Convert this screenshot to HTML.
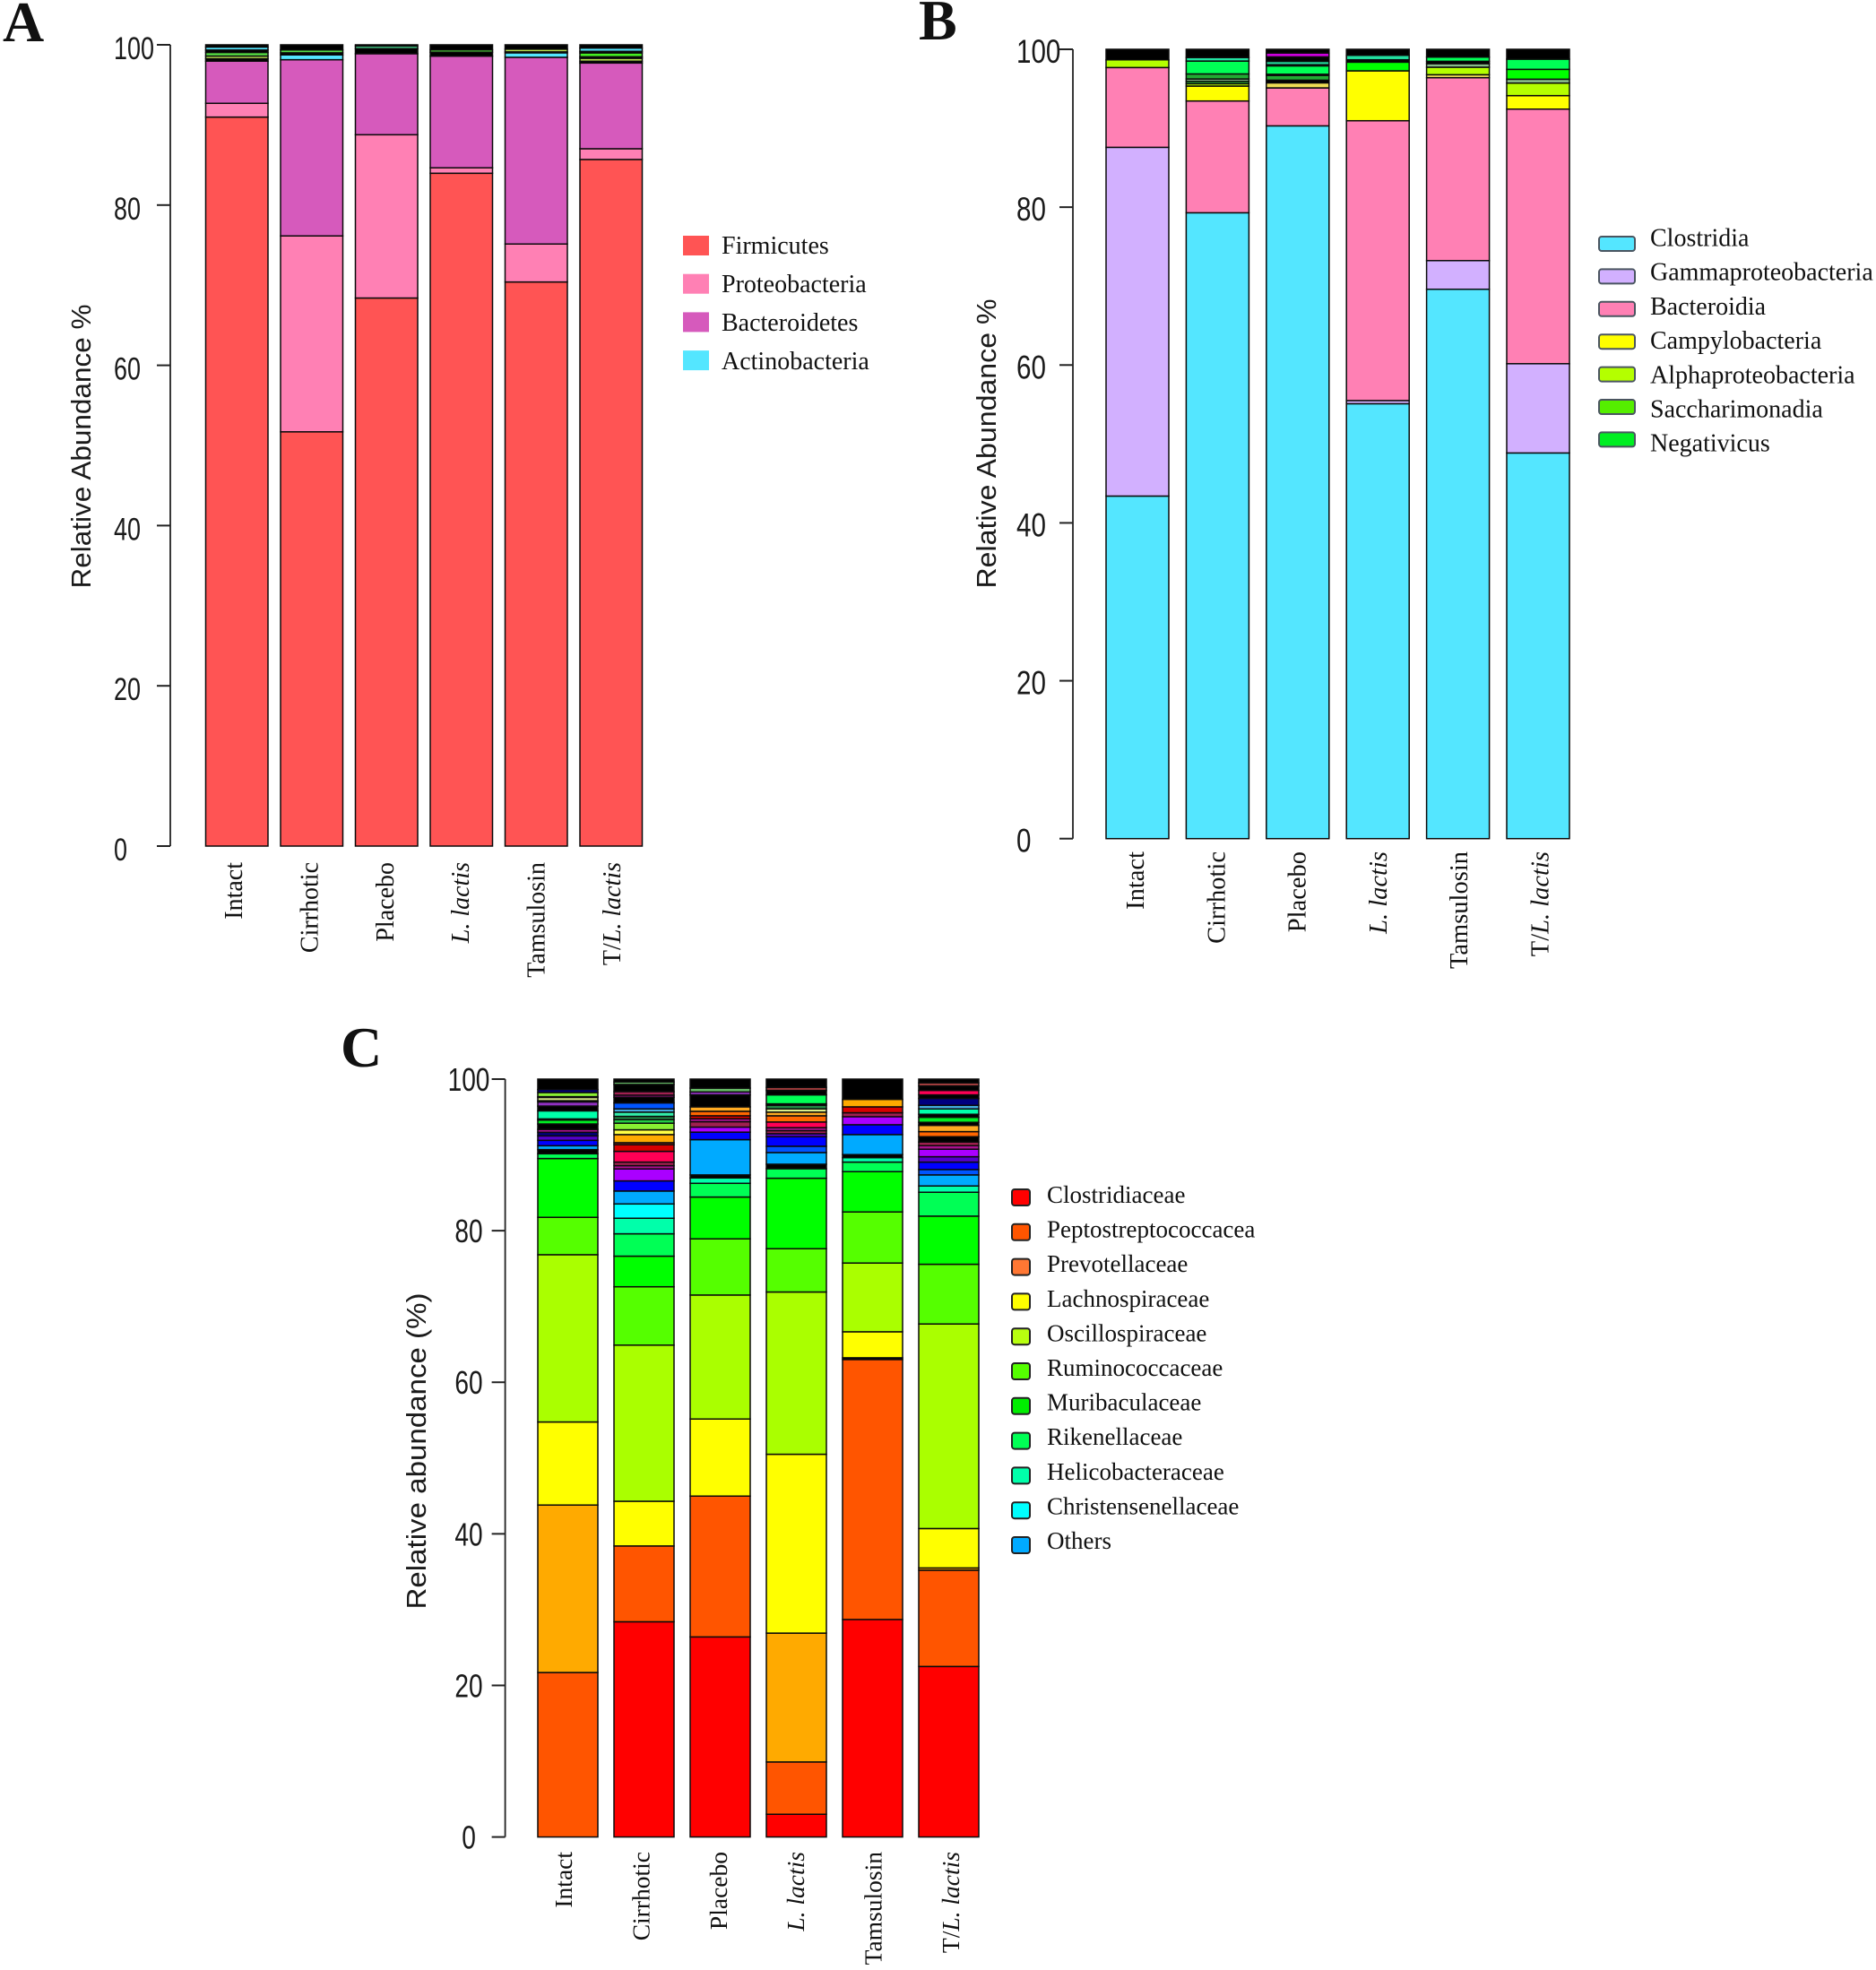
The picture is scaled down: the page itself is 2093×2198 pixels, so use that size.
<!DOCTYPE html>
<html lang="en">
<head>
<meta charset="utf-8">
<title>Relative abundance stacked bars</title>
<style>
html,body{margin:0;padding:0;background:#fff;width:2093px;height:2198px;overflow:hidden}
svg{display:block}
.serif{font-family:"Liberation Serif",serif;fill:#111}
.sans{font-family:"Liberation Sans",sans-serif;fill:#1a1a1a}
</style>
</head>
<body>
<svg id="figure" xmlns="http://www.w3.org/2000/svg" width="2093" height="2198" viewBox="0 0 2093 2198">
<rect x="0" y="0" width="2093" height="2198" fill="#fff"/>
</svg>
<script>
// ---------- shared data ----------
const categories = ['Intact', 'Cirrhotic', 'Placebo', 'L. lactis', 'Tamsulosin', 'T/L. lactis'];
const tickValues = [0, 20, 40, 60, 80, 100];
const tickLabels = ['0', '20', '40', '60', '80', '100'];

// ---------- panel A: phylum ----------
const aLegend = ['Firmicutes', 'Proteobacteria', 'Bacteroidetes', 'Actinobacteria'];
const aPalette = ['#ff5454', '#ff80b4', '#d65abc', '#54e6ff', '#b8e050', '#55dd44', '#44cc88', '#000000', '#44ee22'];
const aIntactValues = [90.98, 1.72, 5.26, 0.3, 0.34, 0.45, 0.3, 0.37, 0.28];
const aIntactTaxa = [0, 1, 2, 7, 4, 5, 7, 3, 7];
const aCirrhoticValues = [51.7, 24.45, 21.99, 0.6, 0.26, 0.37, 0.63];
const aCirrhoticTaxa = [0, 1, 2, 3, 7, 5, 7];
const aPlaceboValues = [68.4, 20.38, 10.11, 0.63, 0.33, 0.15];
const aPlaceboTaxa = [0, 1, 2, 7, 6, 7];
const aLactisValues = [83.97, 0.68, 13.94, 0.49, 0.3, 0.62];
const aLactisTaxa = [0, 1, 2, 7, 5, 7];
const aTamsulosinValues = [70.4, 4.74, 23.3, 0.56, 0.12, 0.34, 0.54];
const aTamsulosinTaxa = [0, 1, 2, 3, 7, 4, 7];
const aComboValues = [85.69, 1.34, 10.7, 0.22, 0.37, 0.19, 0.48, 0.2, 0.41, 0.4];
const aComboTaxa = [0, 1, 2, 7, 4, 7, 8, 7, 3, 7];

// ---------- panel B: class ----------
const bLegend = ['Clostridia', 'Gammaproteobacteria', 'Bacteroidia', 'Campylobacteria', 'Alphaproteobacteria', 'Saccharimonadia', 'Negativicus'];
const bLegendColors = ['#54e6ff', '#d2b0ff', '#ff80b4', '#ffff00', '#b4ff00', '#55ee00', '#00ee22'];
const bPalette = ['#54e6ff', '#d2b0ff', '#ff80b4', '#ffff00', '#b4ff00', '#55e010', '#00ff00', '#00ff55', '#22e0a0', '#000000', '#cc00dd', '#88bb88', '#eedd55', '#22aa33'];
const bIntactValues = [43.4, 44.18, 10.11, 0.98, 1.33];
const bIntactTaxa = [0, 1, 2, 4, 9];
const bCirrhoticValues = [79.29, 14.16, 1.89, 0.3, 0.3, 0.3, 0.64, 1.63, 0.45, 1.04];
const bCirrhoticTaxa = [0, 2, 3, 4, 13, 11, 13, 7, 8, 9];
const bPlaceboValues = [90.3, 4.81, 0.64, 0.34, 0.6, 0.15, 1.06, 0.15, 0.42, 0.57, 0.49, 0.47];
const bPlaceboTaxa = [0, 2, 12, 9, 13, 9, 7, 9, 8, 9, 10, 9];
const bLactisValues = [55.1, 0.4, 35.45, 6.32, 1.1, 0.3, 0.57, 0.76];
const bLactisTaxa = [0, 1, 2, 3, 6, 9, 8, 9];
const bTamsulosinValues = [69.6, 3.63, 23.17, 0.38, 0.95, 0.45, 0.3, 0.53, 0.99];
const bTamsulosinTaxa = [0, 1, 2, 12, 4, 11, 9, 7, 9];
const bComboValues = [48.86, 11.31, 32.25, 1.71, 1.59, 0.49, 1.25, 1.29, 1.25];
const bComboTaxa = [0, 1, 2, 3, 4, 11, 6, 7, 9];

// ---------- panel C: family ----------
const cLegend = ['Clostridiaceae', 'Peptostreptococcacea', 'Prevotellaceae', 'Lachnospiraceae', 'Oscillospiraceae', 'Ruminococcaceae', 'Muribaculaceae', 'Rikenellaceae', 'Helicobacteraceae', 'Christensenellaceae', 'Others'];
const cLegendColors = ['#ff0000', '#ff5500', '#ff7733', '#ffff00', '#b8ff10', '#55ff00', '#00ee00', '#00ff55', '#00ffaa', '#00ffff', '#00aaff'];
const cPalette = ['#ff0000', '#ff5500', '#ffaa00', '#ffff00', '#aaff00', '#55ff00', '#00ff00', '#00ff55', '#00ffaa', '#00ffff', '#00aaff', '#0055ff', '#0000ff', '#5500cc', '#aa00ff', '#aa1090', '#ff0055', '#d80000', '#a03020', '#ff6600', '#ffaa22', '#ffff44', '#88ee33', '#22cc44', '#228844', '#33eeaa', '#44aadd', '#000080', '#9030c0', '#a02050', '#aa4040', '#000000', '#ddee88', '#00ee22', '#66bb66'];
const cIntactValues = [21.7, 22.1, 10.96, 22.07, 4.93, 7.76, 0.63, 0.55, 0.51, 0.71, 0.59, 0.47, 0.39, 0.71, 0.51, 0.16, 1.06, 0.63, 0.55, 0.16, 0.43, 0.1, 0.55, 0.39, 1.38];
const cIntactTaxa = [1, 2, 3, 4, 5, 6, 7, 31, 10, 12, 13, 27, 15, 31, 33, 31, 8, 31, 28, 31, 32, 31, 22, 27, 31];
const cCirrhoticValues = [28.4, 10.0, 5.9, 20.6, 7.7, 4.04, 2.95, 2.05, 1.89, 1.7, 1.34, 1.58, 0.43, 0.47, 1.42, 0.87, 0.27, 1.07, 0.63, 0.87, 0.47, 0.43, 0.56, 0.43, 0.79, 0.75, 0.27, 0.47, 0.95, 0.32, 0.38];
const cCirrhoticTaxa = [0, 1, 3, 4, 5, 6, 7, 8, 9, 10, 12, 14, 15, 29, 16, 17, 18, 2, 21, 22, 23, 24, 25, 26, 11, 31, 15, 29, 31, 34, 31];
const cPlaceboValues = [26.4, 18.58, 10.17, 16.36, 7.41, 5.52, 1.81, 0.71, 0.4, 4.65, 0.99, 0.67, 0.71, 0.39, 0.39, 0.59, 0.59, 1.58, 0.39, 0.5, 1.19];
const cPlaceboTaxa = [0, 1, 3, 4, 5, 6, 7, 8, 31, 10, 12, 14, 29, 15, 17, 19, 20, 31, 28, 34, 31];
const cLactisValues = [3.0, 6.9, 17.0, 23.6, 21.41, 5.71, 9.3, 1.26, 0.59, 1.54, 0.83, 1.26, 0.4, 0.4, 0.39, 0.75, 0.82, 0.48, 0.43, 0.47, 0.2, 1.18, 0.59, 0.39, 1.1];
const cLactisTaxa = [0, 1, 2, 3, 4, 5, 6, 7, 31, 10, 11, 12, 13, 29, 15, 16, 19, 20, 32, 24, 31, 7, 31, 30, 31];
const cTamsulosinValues = [28.7, 34.3, 0.23, 3.43, 9.07, 6.74, 5.32, 1.26, 0.59, 0.4, 2.64, 1.3, 1.06, 0.52, 0.78, 0.99, 2.67];
const cTamsulosinTaxa = [0, 1, 31, 3, 4, 5, 6, 7, 8, 31, 10, 12, 14, 29, 17, 2, 31];
const cComboValues = [22.5, 12.7, 0.3, 5.2, 26.99, 7.88, 6.35, 3.15, 0.83, 1.46, 0.71, 0.98, 0.71, 0.99, 0.47, 0.47, 0.71, 0.67, 0.83, 0.4, 0.66, 0.4, 0.71, 0.47, 0.91, 0.47, 0.59, 0.59, 0.4, 0.5];
const cComboTaxa = [0, 1, 2, 3, 4, 5, 6, 7, 8, 10, 11, 12, 13, 14, 15, 29, 31, 19, 20, 31, 33, 31, 8, 26, 27, 31, 16, 31, 30, 31];

// ---------- drawing ----------
const NS = 'http://www.w3.org/2000/svg';
const figure = document.getElementById('figure');

function make(tag, attrs, parent) {
  const el = document.createElementNS(NS, tag);
  for (const k in attrs) el.setAttribute(k, attrs[k]);
  parent.appendChild(el);
  return el;
}

function drawPanel(p) {
  const group = make('g', {}, figure);
  
  

  const yScale = v => p.y0 - v * (p.y0 - p.y100) / 100;
  const xScale = i => p.barStart + i * p.barStep;

  // panel letter
  const letter = make('text', {x: p.letterX, y: p.letterY, 'font-size': 64, 'font-weight': 'bold', class: 'serif'}, group);
  letter.textContent = p.id;
  
  

  // axis line
  const axis = make('line', {x1: p.axisX, x2: p.axisX, y1: yScale(100), y2: yScale(0), stroke: '#222', 'stroke-width': 1.8}, group);
  
  

  // ticks and tick labels
  tickValues.forEach((v, i) => {
    const tick = make('line', {x1: p.axisX - p.tickLen, x2: p.axisX, y1: yScale(v), y2: yScale(v), stroke: '#222', 'stroke-width': 2}, group);
    
    
    const label = make('text', {
      transform: 'translate(' + p.tickLabelX + ',' + (yScale(v) + p.tickLabelDy) + ') scale(' + p.tickScale + ',1)',
      'font-size': p.tickFont, 'text-anchor': p.tickAnchor, class: 'sans'
    }, group);
    label.textContent = tickLabels[i];
    
    
  });

  // axis title
  const title = make('text', {
    transform: 'translate(' + p.titleX + ',' + p.titleY + ') rotate(-90)',
    'font-size': 31, 'text-anchor': 'middle', class: 'sans',
    textLength: p.titleLen, lengthAdjust: 'spacingAndGlyphs'
  }, group);
  title.textContent = p.title;
  
  

  // stacked bars
  p.stacks.forEach((stack, i) => {
    const bar = make('g', {}, group);
    
    
    let base = 0;
    stack.values.forEach((value, j) => {
      const top = base + value;
      const seg = make('rect', {
        x: xScale(i), width: p.barWidth,
        y: yScale(top), height: yScale(base) - yScale(top),
        fill: p.palette[stack.taxa[j]], stroke: '#0a0a0a', 'stroke-width': 1.5
      }, bar);
      
      
      base = top;
    });
  });

  // category labels
  categories.forEach((name, i) => {
    const label = make('text', {
      transform: 'translate(' + (p.labelStart + i * p.labelStep) + ',' + p.labelTop + ') rotate(-90)',
      'font-size': p.labelFont, 'text-anchor': 'end', class: 'serif'
    }, group);
    
    
    const k = name.indexOf('L. lactis');
    if (k >= 0) {
      if (k > 0) make('tspan', {}, label).textContent = name.slice(0, k);
      make('tspan', {'font-style': 'italic'}, label).textContent = 'L. lactis';
    } else {
      label.textContent = name;
    }
  });

  // legend
  p.legend.forEach((name, i) => {
    const entry = make('g', {}, group);
    
    
    const swatch = make('rect', {
      x: p.swatchX, y: p.swatchY + i * p.swatchStep,
      width: p.swatchW, height: p.swatchH, rx: p.swatchR,
      fill: p.legendColors[i], stroke: p.swatchStroke, 'stroke-width': p.swatchStrokeW
    }, entry);
    
    
    const text = make('text', {
      x: p.legendTextX, y: p.legendTextY + i * p.legendTextStep,
      'font-size': p.legendFont, class: 'serif'
    }, entry);
    text.textContent = name;
    
    
  });
}

drawPanel({
  id: 'A', letterX: 3, letterY: 46,
  y0: 944, y100: 50, axisX: 190, tickLen: 15,
  tickLabelX: 127, tickLabelDy: 16, tickScale: 0.77, tickFont: 35, tickAnchor: 'start',
  title: 'Relative Abundance %', titleX: 101, titleY: 498, titleLen: 317,
  barStart: 229.5, barStep: 83.5, barWidth: 69.5,
  labelStart: 270, labelStep: 84.4, labelTop: 962, labelFont: 28,
  palette: aPalette,
  stacks: [
    {values: aIntactValues, taxa: aIntactTaxa},
    {values: aCirrhoticValues, taxa: aCirrhoticTaxa},
    {values: aPlaceboValues, taxa: aPlaceboTaxa},
    {values: aLactisValues, taxa: aLactisTaxa},
    {values: aTamsulosinValues, taxa: aTamsulosinTaxa},
    {values: aComboValues, taxa: aComboTaxa}
  ],
  legend: aLegend, legendColors: aPalette,
  swatchX: 762, swatchY: 263, swatchStep: 42.7, swatchW: 29, swatchH: 22, swatchR: 0,
  swatchStroke: 'none', swatchStrokeW: 0,
  legendTextX: 805, legendTextY: 283, legendTextStep: 43, legendFont: 28
});

drawPanel({
  id: 'B', letterX: 1025, letterY: 44,
  y0: 935.7, y100: 55, axisX: 1197, tickLen: 15,
  tickLabelX: 1134, tickLabelDy: 15, tickScale: 0.8, tickFont: 37, tickAnchor: 'start',
  title: 'Relative Abundance %', titleX: 1111, titleY: 495, titleLen: 323,
  barStart: 1234, barStep: 89.4, barWidth: 70,
  labelStart: 1276, labelStep: 90.3, labelTop: 950, labelFont: 28.5,
  palette: bPalette,
  stacks: [
    {values: bIntactValues, taxa: bIntactTaxa},
    {values: bCirrhoticValues, taxa: bCirrhoticTaxa},
    {values: bPlaceboValues, taxa: bPlaceboTaxa},
    {values: bLactisValues, taxa: bLactisTaxa},
    {values: bTamsulosinValues, taxa: bTamsulosinTaxa},
    {values: bComboValues, taxa: bComboTaxa}
  ],
  legend: bLegend, legendColors: bLegendColors,
  swatchX: 1784, swatchY: 264, swatchStep: 36.4, swatchW: 40, swatchH: 16, swatchR: 3,
  swatchStroke: '#4a5560', swatchStrokeW: 2,
  legendTextX: 1841, legendTextY: 274.5, legendTextStep: 38.2, legendFont: 28
});

drawPanel({
  id: 'C', letterX: 380, letterY: 1190,
  y0: 2049.6, y100: 1204, axisX: 563.6, tickLen: 15,
  tickLabelX: 523, tickLabelDy: 13, tickScale: 0.78, tickFont: 36, tickAnchor: 'middle',
  title: 'Relative abundance (%)', titleX: 475, titleY: 1619, titleLen: 353,
  barStart: 600, barStep: 85, barWidth: 67,
  labelStart: 638, labelStep: 86.4, labelTop: 2066, labelFont: 27.5,
  palette: cPalette,
  stacks: [
    {values: cIntactValues, taxa: cIntactTaxa},
    {values: cCirrhoticValues, taxa: cCirrhoticTaxa},
    {values: cPlaceboValues, taxa: cPlaceboTaxa},
    {values: cLactisValues, taxa: cLactisTaxa},
    {values: cTamsulosinValues, taxa: cTamsulosinTaxa},
    {values: cComboValues, taxa: cComboTaxa}
  ],
  legend: cLegend, legendColors: cLegendColors,
  swatchX: 1129, swatchY: 1327, swatchStep: 38.8, swatchW: 20, swatchH: 18, swatchR: 3,
  swatchStroke: '#222', swatchStrokeW: 2,
  legendTextX: 1168, legendTextY: 1342, legendTextStep: 38.6, legendFont: 27
});
</script>
</body>
</html>
